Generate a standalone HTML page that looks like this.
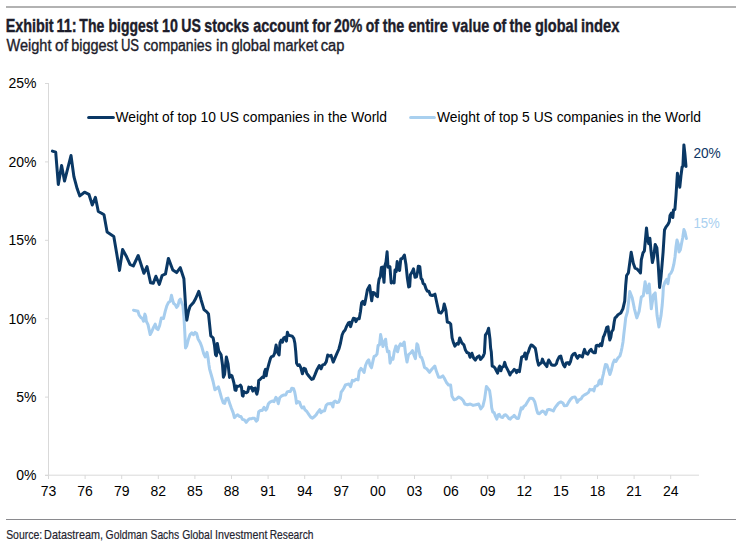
<!DOCTYPE html>
<html><head><meta charset="utf-8"><style>
html,body{margin:0;padding:0;background:#fff;}
body{width:747px;height:541px;overflow:hidden;}
svg{display:block;}
.t{font-family:"Liberation Sans",sans-serif;fill:#1d1d2b;}
.lab{font-family:"Liberation Sans",sans-serif;font-size:14px;fill:#000;}
.ax{stroke:#d9d9d9;stroke-width:1;}
</style></head><body>
<svg width="747" height="541" viewBox="0 0 747 541">
<rect x="6" y="6" width="730" height="2" fill="#b2b2b2"/>
<g class="t" stroke="#1d1d2b" stroke-width="0.4"><text x="5.65" y="31.5" font-size="18.2" textLength="48.02" lengthAdjust="spacingAndGlyphs" font-weight="bold">Exhibit</text><text x="56.40" y="31.5" font-size="18.2" textLength="20.20" lengthAdjust="spacingAndGlyphs" font-weight="bold">11:</text><text x="79.35" y="31.5" font-size="18.2" textLength="24.93" lengthAdjust="spacingAndGlyphs" font-weight="bold">The</text><text x="108.59" y="31.5" font-size="18.2" textLength="49.57" lengthAdjust="spacingAndGlyphs" font-weight="bold">biggest</text><text x="162.02" y="31.5" font-size="18.2" textLength="15.86" lengthAdjust="spacingAndGlyphs" font-weight="bold">10</text><text x="181.25" y="31.5" font-size="18.2" textLength="19.60" lengthAdjust="spacingAndGlyphs" font-weight="bold">US</text><text x="204.30" y="31.5" font-size="18.2" textLength="44.97" lengthAdjust="spacingAndGlyphs" font-weight="bold">stocks</text><text x="253.28" y="31.5" font-size="18.2" textLength="55.29" lengthAdjust="spacingAndGlyphs" font-weight="bold">account</text><text x="312.36" y="31.5" font-size="18.2" textLength="18.53" lengthAdjust="spacingAndGlyphs" font-weight="bold">for</text><text x="334.02" y="31.5" font-size="18.2" textLength="28.15" lengthAdjust="spacingAndGlyphs" font-weight="bold">20%</text><text x="365.65" y="31.5" font-size="18.2" textLength="13.22" lengthAdjust="spacingAndGlyphs" font-weight="bold">of</text><text x="382.63" y="31.5" font-size="18.2" textLength="21.56" lengthAdjust="spacingAndGlyphs" font-weight="bold">the</text><text x="408.23" y="31.5" font-size="18.2" textLength="39.67" lengthAdjust="spacingAndGlyphs" font-weight="bold">entire</text><text x="452.36" y="31.5" font-size="18.2" textLength="36.84" lengthAdjust="spacingAndGlyphs" font-weight="bold">value</text><text x="492.95" y="31.5" font-size="18.2" textLength="13.42" lengthAdjust="spacingAndGlyphs" font-weight="bold">of</text><text x="509.53" y="31.5" font-size="18.2" textLength="21.66" lengthAdjust="spacingAndGlyphs" font-weight="bold">the</text><text x="534.90" y="31.5" font-size="18.2" textLength="42.80" lengthAdjust="spacingAndGlyphs" font-weight="bold">global</text><text x="580.98" y="31.5" font-size="18.2" textLength="38.52" lengthAdjust="spacingAndGlyphs" font-weight="bold">index</text></g>
<g class="t" stroke="#1d1d2b" stroke-width="0.35"><text x="6.54" y="50.8" font-size="15.6" textLength="44.96" lengthAdjust="spacingAndGlyphs">Weight</text><text x="55.05" y="50.8" font-size="15.6" textLength="12.92" lengthAdjust="spacingAndGlyphs">of</text><text x="71.17" y="50.8" font-size="15.6" textLength="46.62" lengthAdjust="spacingAndGlyphs">biggest</text><text x="120.89" y="50.8" font-size="15.6" textLength="18.20" lengthAdjust="spacingAndGlyphs">US</text><text x="143.51" y="50.8" font-size="15.6" textLength="68.20" lengthAdjust="spacingAndGlyphs">companies</text><text x="215.97" y="50.8" font-size="15.6" textLength="12.13" lengthAdjust="spacingAndGlyphs">in</text><text x="231.39" y="50.8" font-size="15.6" textLength="38.98" lengthAdjust="spacingAndGlyphs">global</text><text x="273.34" y="50.8" font-size="15.6" textLength="44.46" lengthAdjust="spacingAndGlyphs">market</text><text x="320.78" y="50.8" font-size="15.6" textLength="23.73" lengthAdjust="spacingAndGlyphs">cap</text></g>
<line x1="48.5" y1="83" x2="48.5" y2="476" class="ax"/>
<line x1="45" y1="475.2" x2="699" y2="475.2" class="ax"/>
<line x1="45" y1="475.5" x2="48" y2="475.5" class="ax"/><text x="36.5" y="480.3" class="lab" text-anchor="end">0%</text><line x1="45" y1="397.1" x2="48" y2="397.1" class="ax"/><text x="36.5" y="401.9" class="lab" text-anchor="end">5%</text><line x1="45" y1="318.7" x2="48" y2="318.7" class="ax"/><text x="36.5" y="323.5" class="lab" text-anchor="end">10%</text><line x1="45" y1="240.3" x2="48" y2="240.3" class="ax"/><text x="36.5" y="245.1" class="lab" text-anchor="end">15%</text><line x1="45" y1="161.9" x2="48" y2="161.9" class="ax"/><text x="36.5" y="166.7" class="lab" text-anchor="end">20%</text><line x1="45" y1="83.5" x2="48" y2="83.5" class="ax"/><text x="36.5" y="88.3" class="lab" text-anchor="end">25%</text><line x1="48.5" y1="475" x2="48.5" y2="479" class="ax"/><text x="48.5" y="495.6" class="lab" text-anchor="middle">73</text><line x1="85.1" y1="475" x2="85.1" y2="479" class="ax"/><text x="85.1" y="495.6" class="lab" text-anchor="middle">76</text><line x1="121.7" y1="475" x2="121.7" y2="479" class="ax"/><text x="121.7" y="495.6" class="lab" text-anchor="middle">79</text><line x1="158.3" y1="475" x2="158.3" y2="479" class="ax"/><text x="158.3" y="495.6" class="lab" text-anchor="middle">82</text><line x1="194.9" y1="475" x2="194.9" y2="479" class="ax"/><text x="194.9" y="495.6" class="lab" text-anchor="middle">85</text><line x1="231.5" y1="475" x2="231.5" y2="479" class="ax"/><text x="231.5" y="495.6" class="lab" text-anchor="middle">88</text><line x1="268.1" y1="475" x2="268.1" y2="479" class="ax"/><text x="268.1" y="495.6" class="lab" text-anchor="middle">91</text><line x1="304.7" y1="475" x2="304.7" y2="479" class="ax"/><text x="304.7" y="495.6" class="lab" text-anchor="middle">94</text><line x1="341.3" y1="475" x2="341.3" y2="479" class="ax"/><text x="341.3" y="495.6" class="lab" text-anchor="middle">97</text><line x1="377.9" y1="475" x2="377.9" y2="479" class="ax"/><text x="377.9" y="495.6" class="lab" text-anchor="middle">00</text><line x1="414.5" y1="475" x2="414.5" y2="479" class="ax"/><text x="414.5" y="495.6" class="lab" text-anchor="middle">03</text><line x1="451.1" y1="475" x2="451.1" y2="479" class="ax"/><text x="451.1" y="495.6" class="lab" text-anchor="middle">06</text><line x1="487.7" y1="475" x2="487.7" y2="479" class="ax"/><text x="487.7" y="495.6" class="lab" text-anchor="middle">09</text><line x1="524.3" y1="475" x2="524.3" y2="479" class="ax"/><text x="524.3" y="495.6" class="lab" text-anchor="middle">12</text><line x1="560.9" y1="475" x2="560.9" y2="479" class="ax"/><text x="560.9" y="495.6" class="lab" text-anchor="middle">15</text><line x1="597.5" y1="475" x2="597.5" y2="479" class="ax"/><text x="597.5" y="495.6" class="lab" text-anchor="middle">18</text><line x1="634.1" y1="475" x2="634.1" y2="479" class="ax"/><text x="634.1" y="495.6" class="lab" text-anchor="middle">21</text><line x1="670.7" y1="475" x2="670.7" y2="479" class="ax"/><text x="670.7" y="495.6" class="lab" text-anchor="middle">24</text>
<line x1="88.6" y1="117.5" x2="113.4" y2="117.5" stroke="#0a3865" stroke-width="3" stroke-linecap="round"/>
<text class="lab" x="115.5" y="121.9" textLength="271.5" lengthAdjust="spacingAndGlyphs">Weight of top 10 US companies in the World</text>
<line x1="410.6" y1="117.5" x2="434.4" y2="117.5" stroke="#a9d0ef" stroke-width="3" stroke-linecap="round"/>
<text class="lab" x="437" y="121.9" textLength="264" lengthAdjust="spacingAndGlyphs">Weight of top 5 US companies in the World</text>
<polyline points="133.5,310.2 135.8,310.7 138,311.3 139.1,315.2 140.8,317.4 142.4,318.5 143.5,321.3 144.9,314.1 145.8,316.8 146.3,321.3 148,324.6 149.1,329.6 150.2,334.6 151.9,331.3 153.5,327.4 155.2,324.1 156.6,328.5 158,329.6 159.6,325.7 161.3,318 163.5,318.5 165.2,311.3 166.8,305.8 168.5,302.4 170.2,301.3 171.5,295.2 172.6,300.2 173.7,303.5 175.2,304.6 176.6,307.4 177.9,305.8 179.3,300.2 180.4,299.1 181.3,301.9 182.9,305.8 184,318 184.8,332.4 185.5,348 186.8,345.7 188.5,339 190.1,334.6 191.8,332.9 193.5,334.6 195.1,332.4 196.6,333.5 198.1,339 200.1,342.4 201.8,346.8 203.7,353.7 205.2,357 207,352.3 208,357.5 208.9,364.5 209.6,369.1 211.3,375 213.1,381.5 214.9,389.8 216.7,388.6 218.4,386.9 219.6,391 221.4,397.5 223.2,402.8 224.7,403.4 226.1,398.7 227.9,398.1 229.7,403.4 231.4,408.2 233.2,412.9 234.4,417.6 236.2,415.8 237.7,414.7 239.4,416.4 240.9,416.4 242.4,419.4 244.5,420 246.2,422.4 248,420 249.6,418.8 251.2,418.8 252.7,418.2 254.5,418.2 256.3,421.2 257.5,420 258.7,411.7 260.4,410.5 262.2,410.5 264.1,407.4 265.7,410.1 266.8,409 268.4,403.7 270,402.1 272.2,401 274,401.6 275.9,397.3 277,398.9 278.3,403.7 279.7,397.8 281.3,396.2 283.4,395.1 285.6,395.1 287.2,391.9 288.8,391.4 290.4,391.4 291.8,388.2 293.6,388.7 294.7,391.9 295.7,397.3 296.5,403.2 298.2,401.6 299.5,402.1 300.8,405.8 302.1,408 303.8,406.9 304.8,409.6 307,411.7 309.1,414.9 310.7,417.1 312.5,418.2 314.5,416.5 316.1,414.9 317.7,412.3 319.8,409.6 320.9,412.8 322.5,411.2 324.6,410.7 326.2,405.3 327.8,403.7 329.5,403.7 331.1,403.2 332.9,406.9 333.7,402.1 335.3,401 336.9,402.6 338.6,402.1 340.2,398.3 341.2,392 342.3,390.7 343.7,388.5 345.4,385 347.2,384.4 348.9,383.9 350.6,386.7 352.3,380.4 354,381 355.8,379.3 358.1,379.9 359.2,371.3 360.9,368.4 362.6,370.1 364.1,372.4 365.5,365.5 367.2,361.5 368.7,359.8 370.1,365.5 371.5,367.8 373,360.9 374.1,356.4 375.6,355.8 377,354.1 378.1,345.5 379.5,344.9 380.6,334.6 381.8,340.3 382.9,346.6 384.1,342.6 385.6,339.2 386.4,346 387.5,351.8 389,351.2 390.1,363.2 391.6,358.1 393,359.2 394.2,351.8 395.9,346 397.6,351.8 398.7,347.2 400.5,343.8 402.2,345.5 404.2,342 405.6,354.1 407,362.1 408.5,354.6 410.8,352.9 412.5,350.6 414.2,355.8 415.4,358.7 416.9,343.8 417.8,345 418.9,350.5 420.3,356.9 421.7,357.6 423.1,361.8 424.5,367.4 426.7,368.8 429.5,372.3 431.6,369.5 434.8,366 436.5,371.6 438.6,377.3 440.7,377.3 442.8,375.9 444.2,378 446.3,382.2 448.5,385 450.6,385 452,396.3 454.1,399.8 456.2,399.1 458.7,397 461.1,398.4 463.2,400.5 464.9,404 467.4,404.7 470.3,404 473.1,405.4 475.9,404.7 478.7,404 480.8,408.9 482.9,406.1 484.6,399.1 486.4,386.4 488.5,389.2 489.6,390.7 490.7,398.2 491.7,407.8 492.8,412.1 494.2,412.7 495.5,416.4 496.8,419.1 498.2,414.8 499.2,414.3 500.6,416.9 502.5,417.5 504.1,415.3 505.7,414.8 507.3,416.4 508.9,418.5 510.3,419.1 511.6,417.5 513.2,416.4 514.2,415.3 515.3,416.9 516.9,418.5 518.5,418.5 520.1,412.1 521.2,407.8 522.5,408.9 523.9,406.2 525.5,405.2 527.1,402.5 528.5,400.3 529.8,398.2 531.4,398.2 533,398.7 534.6,401.4 535.6,405.2 536.7,410 537.8,413.2 539.4,413.7 541,412.1 542.6,411 544.2,412.1 545.8,414.3 547.4,410 549,409.4 551.2,410 553.3,411 554.9,407.8 556.5,405.7 558.7,403 560.8,401.9 562.9,403 564.2,405.7 566.8,405.4 568.5,402.4 570.5,399.4 572.5,397.4 575,396.9 576.2,398.9 577.2,402.4 579,399.9 581,398.9 582.5,396.4 584.5,394.9 586.5,393.9 588.5,392.4 589.9,389.4 591.4,389.9 592.9,389.4 593.9,390.9 595.1,386.4 596.9,385.9 598.4,384.4 598.9,381.4 599.9,380 601.4,383.9 602.4,378 603.4,374 604.4,369 605.4,364.5 606.9,365 608.4,369.5 609.9,374.5 611.4,370 612.9,363.5 614.4,360 615.9,361.5 617.9,358 619.9,356 621.1,351.8 622,347.6 623,341.9 623.9,333.5 624.8,326 625.7,317.9 627.5,311.6 629.8,291.5 632.2,297.7 634.4,308.8 636.8,317.9 639.1,311.6 641.3,297 643.3,295.7 645.1,281.8 647.2,292.9 649.2,283.9 651.3,308.8 653.4,295 655.2,292.9 657.1,315.8 658.9,326.9 661,315.8 662.2,305 662.9,296 663.4,286.7 664.9,282.2 666.7,279.3 667.9,283.7 669.3,274.8 670.8,273.3 672.3,270.4 673.8,264.4 675,257 676,246.7 677,240 678.2,243.7 679,251.9 680.4,249.6 681.5,243.7 682.7,237.8 683.9,229.6 684.9,231.9 686.4,238.5" fill="none" stroke="#a6cdee" stroke-width="3" stroke-linejoin="round" stroke-linecap="round"/>
<polyline points="52.4,151.1 55.7,152.2 58.3,184.4 61.6,165.5 64.5,181.1 71,155.5 73.9,176.6 77.2,188.8 79.8,195.9 84.5,192.2 88.9,194.3 92.3,205 95.4,197.3 98.3,211.5 101.6,213.3 104,214.8 107.1,232.1 113.8,236.5 116.7,253.5 119.5,270.4 122.6,249.5 126.6,256.8 130,264.4 133.3,266 138.2,255.5 143.9,273.3 147,266.6 150.6,282.8 153.3,283.3 155.9,276.2 159.3,284.4 162.1,275.5 165.5,273.9 168.4,258.4 172.8,270 176.6,272.6 180.3,267.7 183.9,278.8 185.7,308 186.8,320.2 188.5,311.3 190.1,306.3 193.5,302.4 195.7,298.5 198.8,291.3 201.2,300.2 204,309.6 206.8,311.9 208.5,314 210.8,335.9 213.1,337.8 214.5,345.3 215.5,354.7 216.4,355.6 217.3,343.4 218.7,350.9 221.1,354.7 222.5,365 223.4,377.2 224.6,374.4 226.4,357 228.1,364.1 229,372.7 229.5,377.4 230.6,375 231.9,375.7 233,379.4 234,383.4 235,390.1 236,390.4 236.7,386.1 238,386.4 239.1,386.1 240.4,385.1 241.4,386.7 242.4,395.5 243.1,396.1 243.7,391.4 245.1,392.4 246.4,392.8 247.8,391.8 248.8,387.1 250,388.1 251.4,387.1 252.8,391.1 253.8,388.4 255.1,388.1 256.1,392.1 256.9,394.1 258,389.4 258.7,380.4 259.8,379.7 261.5,378 262.8,376.7 263.8,377.4 264.5,372 265.5,369.3 266.2,375.7 266.8,372 267.8,368 268.9,363.8 270.5,358.3 271.6,356.6 273.3,356.1 274.6,353.3 276.1,345 277.5,352.2 279.1,355 280,342.7 281.3,340 282.4,342.2 283.8,337.8 285.3,337.2 286.4,341.1 287.4,332.2 288.3,335 289.7,335.5 292.2,336.1 293.8,338.3 294.9,343.3 295.7,351.1 296.6,363.3 297.9,365.5 299.4,364.9 300.8,367.7 302.4,373.8 304,368.3 305.3,368.8 306.8,373.3 308.8,376 311.6,379.4 313.2,378.8 314.9,374.9 317.1,369.4 319.3,365.5 321,368.8 322.7,364.9 324.6,364.4 326.3,361.6 327.7,355 329.3,356.1 331.1,355.4 333.2,362.1 336.5,354.4 338.9,349 340.5,343 342.1,335 343.4,332 345.1,330 346.3,327 348.4,322.9 349.6,322.4 350.6,326.6 352.1,321.6 353.4,318.3 355,318.7 355.9,321.6 357.5,318.7 359.2,318.7 360.4,312 361.6,302.7 362.9,301.3 364.6,304.5 365.9,298 367.4,289.7 369.6,285.6 370.8,294.3 371.7,300.8 372.9,292.5 374.5,293 375.9,295.3 377.5,296.7 378.2,285.1 379.1,279.1 380.3,276.8 381.4,267.5 382.5,267.1 384,282.3 384.9,265.7 386,262 387.1,251.8 388,267.2 389.9,266.7 391.2,283 392.8,281.6 394.1,283 395,270 396.2,271.5 397.2,261.4 398.3,269.6 399.6,270.5 400.8,259 402.2,258.5 404.4,255.1 406,264.8 407.3,277.7 408.7,286.9 409.7,286.4 410.4,274.8 412.1,272 413.5,268.9 415,277.3 416.4,276.8 417.5,272.4 418.3,266.2 419.8,266.7 421,278.2 422.2,279.7 423.1,283.5 424.6,284.5 426,288.8 427.4,291.2 428.9,291.2 430.3,295 432.3,295.5 433.7,295 435,294.2 436.9,303.3 438.9,312.3 441,313 443.1,310.2 444.2,303.9 445.9,310.2 447.3,322 449.3,322.7 450.7,324 452.1,337.9 453.5,342.8 454.9,346.2 456.7,343.5 458.3,344.1 459.7,337.9 461.8,342.8 463.9,344.8 465.3,349.7 466.9,352.5 468.7,353.2 470.1,357.3 471.9,353.2 473.6,358 475.3,360.1 477.1,357.3 479.1,355.9 480.5,359.4 483,356.6 484.4,353.2 485.4,335.1 487.2,332.4 488.6,328.2 490,339.3 490.6,348 491.3,352.1 492.2,366.1 493.6,366.6 495,368 496.4,370.8 497.6,373.1 498.8,368 499.7,366.1 500.9,370.8 502.1,367.1 503.5,366.6 504.7,362.4 505.8,366.1 507.2,368.9 508.6,371.7 510,375 511,372.7 512.4,371.7 514.2,369.4 515.6,370.3 516.6,372.7 517.8,370.3 519.4,371.7 520.3,366.1 521.6,357.2 522.7,356.7 524.1,355.8 525,353 526.2,359.1 527.2,354.4 528.3,352.1 529.7,347.8 531.1,345 532.5,345.5 533.9,346.9 535.3,348.3 536.3,353.5 537.2,359.6 538.6,365.2 540,363.8 541.4,362.8 542.4,359.1 543.5,361.9 544.7,363.8 545.9,365.2 546.9,366.6 547.5,363.3 548.7,360 549.9,361.9 551.3,364.7 553.1,365.2 555,365.2 556.4,363.8 557.3,360.7 559.2,356.9 560.8,356 562,360.7 563.4,364.9 564.8,366.8 566.2,363 567.9,362.6 569.2,364.4 570.5,361.6 571.9,356 573.3,354.1 574.9,353.2 576.1,356 577.5,358.3 579.2,355.5 580.8,356 582.4,356.9 583.6,352.2 584.5,349.4 585.9,353.2 587.8,354.1 589.2,351.3 591.1,349.4 592.5,351.8 593.9,352.7 595.3,352.7 596.2,345.7 597.6,345.2 599,346.1 600.5,343.8 601.7,345.7 602.3,342.4 603.3,337.2 604.2,335.4 605.6,331.6 606.7,327.4 608,326.9 608.9,334.9 609.8,340.1 610.8,337.2 611.7,331.6 613.1,329.7 614.2,322 615,318 616,317.2 618,314.7 620.8,313 622.9,308.8 624.7,301.2 625.7,285.3 626.6,275.5 628.4,272.8 631.2,252.2 633.3,263.3 635,268.1 636.8,268.8 638.8,270.9 640.5,273 641.3,259.8 643,252.9 644.4,250.8 646.5,227.9 647.8,240.4 648.8,243.8 649.9,238.3 651,250.8 652.4,262.6 653.8,256.3 655.2,244.5 656.9,248 658.3,266 659.6,287.5 661,277.1 663.1,252.2 664.5,230 665.9,227.2 668,224.4 669.3,221.6 670,215.4 671.4,213 672.8,217.5 673.5,210 674.9,209.5 676,195.5 677.4,173.3 678.8,180.2 679.8,187.2 681.1,174.7 682.1,167 682.9,166.4 683.9,144.9 684.9,153.9 686,166.4" fill="none" stroke="#0a3865" stroke-width="3" stroke-linejoin="round" stroke-linecap="round"/>
<text class="lab" x="693.4" y="157.9" style="fill:#0d3563" textLength="27.4" lengthAdjust="spacingAndGlyphs">20%</text>
<text class="lab" x="693.4" y="228" style="fill:#a9d0ef" textLength="26.4" lengthAdjust="spacingAndGlyphs">15%</text>
<rect x="6" y="519" width="730" height="1" fill="#8a8a8e"/>
<g class="t" stroke="#2a2a38" stroke-width="0.2"><text x="6.13" y="538.6" font-size="13.6" textLength="36.02" lengthAdjust="spacingAndGlyphs">Source:</text><text x="44.11" y="538.6" font-size="13.6" textLength="58.86" lengthAdjust="spacingAndGlyphs">Datastream,</text><text x="105.58" y="538.6" font-size="13.6" textLength="41.99" lengthAdjust="spacingAndGlyphs">Goldman</text><text x="150.54" y="538.6" font-size="13.6" textLength="28.53" lengthAdjust="spacingAndGlyphs">Sachs</text><text x="182.18" y="538.6" font-size="13.6" textLength="30.01" lengthAdjust="spacingAndGlyphs">Global</text><text x="215.02" y="538.6" font-size="13.6" textLength="52.36" lengthAdjust="spacingAndGlyphs">Investment</text><text x="269.76" y="538.6" font-size="13.6" textLength="43.69" lengthAdjust="spacingAndGlyphs">Research</text></g>
</svg>
</body></html>
